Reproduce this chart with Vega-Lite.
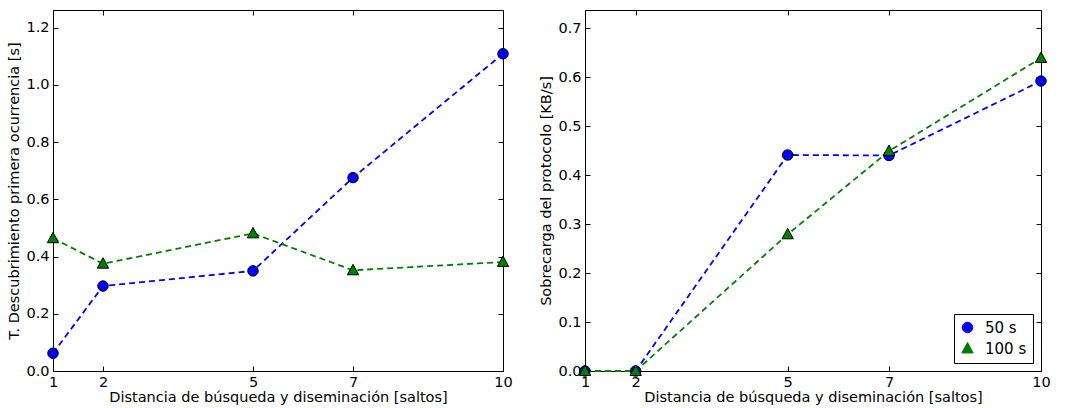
{
  "$schema": "https://vega.github.io/schema/vega-lite/v6.json",
  "padding": {"left": 6, "top": 9, "right": 5, "bottom": 4},
  "background": "white",
  "spacing": 25,
  "config": {
    "font": "DejaVu Sans",
    "view": {"stroke": "black", "strokeWidth": 1},
    "axis": {
      "grid": false, "domain": false, "tickColor": "black", "tickSize": -5,
      "labelFontSize": 14.5, "titleFontSize": 14.5, "labelColor": "black", "titleColor": "black",
      "titleFontWeight": "normal", "labelPadding": 9, "labelOverlap": false, "labelFlush": false
    }
  },
  "datasets": {
    "left": [
      {"x": 1, "y": 0.062, "s": "50 s"}, {"x": 2, "y": 0.297, "s": "50 s"}, {"x": 5, "y": 0.35, "s": "50 s"}, {"x": 7, "y": 0.676, "s": "50 s"}, {"x": 10, "y": 1.109, "s": "50 s"},
      {"x": 1, "y": 0.464, "s": "100 s"}, {"x": 2, "y": 0.375, "s": "100 s"}, {"x": 5, "y": 0.481, "s": "100 s"}, {"x": 7, "y": 0.352, "s": "100 s"}, {"x": 10, "y": 0.381, "s": "100 s"}
    ],
    "right": [
      {"x": 1, "y": 0.0, "s": "50 s"}, {"x": 2, "y": 0.0, "s": "50 s"}, {"x": 5, "y": 0.441, "s": "50 s"}, {"x": 7, "y": 0.44, "s": "50 s"}, {"x": 10, "y": 0.592, "s": "50 s"},
      {"x": 1, "y": 0.0, "s": "100 s"}, {"x": 2, "y": 0.0, "s": "100 s"}, {"x": 5, "y": 0.279, "s": "100 s"}, {"x": 7, "y": 0.449, "s": "100 s"}, {"x": 10, "y": 0.639, "s": "100 s"}
    ]
  },
  "resolve": {"scale": {"color": "independent", "shape": "independent"}, "legend": {"color": "independent", "shape": "independent"}},
  "hconcat": [
    {
      "width": 450, "height": 361,
      "data": {"name": "left"},
      "resolve": {"scale": {"x": "independent", "y": "independent"}},
      "layer": [
        {
          "mark": {"type": "line", "strokeDash": [6, 4], "strokeWidth": 1.8},
          "encoding": {
            "x": {"field": "x", "type": "quantitative", "scale": {"domain": [1, 10], "nice": false, "zero": false}, "axis": {"values": [1, 2, 5, 7, 10], "title": "Distancia de búsqueda y diseminación [saltos]", "titlePadding": 2}},
            "y": {"field": "y", "type": "quantitative", "scale": {"domain": [0, 1.262], "nice": false}, "axis": {"values": [0, 0.2, 0.4, 0.6, 0.8, 1.0, 1.2], "format": ".1f", "title": "T. Descubrimiento primera ocurrencia [s]", "titlePadding": 4}},
            "color": {"field": "s", "type": "nominal", "scale": {"domain": ["50 s", "100 s"], "range": ["#0000ff", "#008000"]}, "legend": null}
          }
        },
        {
          "mark": {"type": "point", "filled": true, "stroke": "black", "strokeWidth": 1, "opacity": 1, "size": 110},
          "encoding": {
            "x": {"field": "x", "type": "quantitative", "scale": {"domain": [1, 10], "nice": false, "zero": false}, "axis": {"orient": "top", "values": [1, 2, 5, 7, 10], "labels": false, "title": null}},
            "y": {"field": "y", "type": "quantitative", "scale": {"domain": [0, 1.262], "nice": false}, "axis": {"orient": "right", "values": [0, 0.2, 0.4, 0.6, 0.8, 1.0, 1.2], "labels": false, "title": null}},
            "color": {"field": "s", "type": "nominal", "scale": {"domain": ["50 s", "100 s"], "range": ["#0000ff", "#008000"]}, "legend": null},
            "shape": {"field": "s", "type": "nominal", "scale": {"domain": ["50 s", "100 s"], "range": ["circle", "M0,-1.15L1.08,0.85L-1.08,0.85Z"]}, "legend": null}
          }
        }
      ]
    },
    {
      "width": 456, "height": 361,
      "data": {"name": "right"},
      "resolve": {"scale": {"x": "independent", "y": "independent"}},
      "layer": [
        {
          "mark": {"type": "line", "strokeDash": [6, 4], "strokeWidth": 1.8},
          "encoding": {
            "x": {"field": "x", "type": "quantitative", "scale": {"domain": [1, 10], "nice": false, "zero": false}, "axis": {"values": [1, 2, 5, 7, 10], "title": "Distancia de búsqueda y diseminación [saltos]", "titlePadding": 2}},
            "y": {"field": "y", "type": "quantitative", "scale": {"domain": [0, 0.737], "nice": false}, "axis": {"values": [0, 0.1, 0.2, 0.3, 0.4, 0.5, 0.6, 0.7], "format": ".1f", "title": "Sobrecarga del protocolo [KB/s]", "titlePadding": 4}},
            "color": {"field": "s", "type": "nominal", "scale": {"domain": ["50 s", "100 s"], "range": ["#0000ff", "#008000"]}}
          }
        },
        {
          "mark": {"type": "point", "filled": true, "stroke": "black", "strokeWidth": 1, "opacity": 1, "size": 110},
          "encoding": {
            "x": {"field": "x", "type": "quantitative", "scale": {"domain": [1, 10], "nice": false, "zero": false}, "axis": {"orient": "top", "values": [1, 2, 5, 7, 10], "labels": false, "title": null}},
            "y": {"field": "y", "type": "quantitative", "scale": {"domain": [0, 0.737], "nice": false}, "axis": {"orient": "right", "values": [0, 0.1, 0.2, 0.3, 0.4, 0.5, 0.6, 0.7], "labels": false, "title": null}},
            "color": {"field": "s", "type": "nominal", "scale": {"domain": ["50 s", "100 s"], "range": ["#0000ff", "#008000"]},
              "legend": {"title": null, "orient": "bottom-right", "offset": 8, "strokeColor": "black", "fillColor": "white", "padding": 6, "labelFontSize": 15, "labelColor": "black", "symbolSize": 110, "symbolStrokeColor": "black", "symbolStrokeWidth": 1, "symbolOpacity": 1, "rowPadding": 4, "labelOffset": 10}},
            "shape": {"field": "s", "type": "nominal", "scale": {"domain": ["50 s", "100 s"], "range": ["circle", "M0,-1.15L1.08,0.85L-1.08,0.85Z"]},
              "legend": {"title": null, "orient": "bottom-right", "offset": 8, "strokeColor": "black", "fillColor": "white", "padding": 6, "labelFontSize": 15, "labelColor": "black", "symbolSize": 110, "symbolStrokeColor": "black", "symbolStrokeWidth": 1, "symbolOpacity": 1, "rowPadding": 4, "labelOffset": 10}}
          }
        }
      ]
    }
  ]
}
